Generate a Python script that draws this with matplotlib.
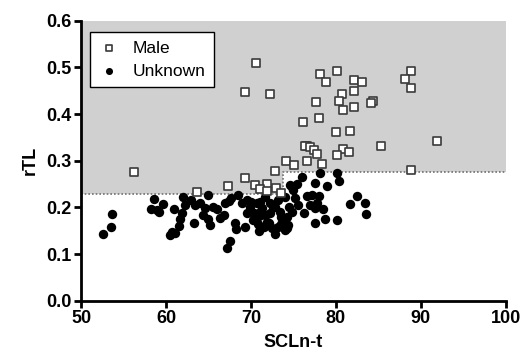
import matplotlib.pyplot as plt

plt.rcParams['font.family'] = ['Liberation Sans', 'DejaVu Sans']

# --- data

male_x = [70.6, 69.3, 56.2, 72.3, 78.2, 78.8, 77.7, 78.0, 76.1, 80.1,
          82.2, 83.1, 88.8, 88.2, 88.8, 80.7, 82.2, 80.4, 80.8, 82.2,
          84.4, 84.2, 80.0, 81.7, 91.9, 85.3, 76.6, 76.4, 77.0, 77.4,
          77.8, 80.8, 81.5, 80.1, 76.6, 78.4, 74.1, 75.1, 72.9, 88.9,
          69.3, 70.5, 67.3, 71.9, 71.1, 71.9, 73.0, 73.6, 63.6]
male_y = [0.509, 0.447, 0.275, 0.443, 0.485, 0.468, 0.425, 0.391, 0.382, 0.493,
          0.473, 0.469, 0.493, 0.475, 0.455, 0.444, 0.450, 0.428, 0.408, 0.415,
          0.427, 0.423, 0.361, 0.363, 0.343, 0.331, 0.331, 0.332, 0.330, 0.323,
          0.314, 0.326, 0.319, 0.312, 0.300, 0.294, 0.299, 0.291, 0.278, 0.280,
          0.264, 0.248, 0.246, 0.250, 0.239, 0.236, 0.241, 0.230, 0.233]

unk_x = [52.6, 53.5, 53.6, 58.2, 58.6, 59.2, 59.6, 60.5, 60.7, 60.9,
         61.1, 61.5, 61.7, 61.9, 62.0, 62.2, 63.3, 63.4, 64.0, 64.4,
         64.6, 64.9, 65.0, 65.2, 65.6, 66.0, 66.4, 66.8, 67.0, 67.2,
         67.5, 67.4, 67.7, 68.1, 68.3, 68.5, 68.9, 69.3, 69.5, 69.5,
         69.9, 70.0, 70.3, 70.4, 70.7, 70.9, 71.1, 71.1, 71.3, 71.5,
         71.7, 71.7, 71.9, 72.1, 72.3, 72.3, 72.5, 72.6, 72.9, 72.9,
         73.2, 73.2, 73.4, 73.6, 73.8, 74.0, 74.0, 74.2, 74.4, 74.2,
         74.6, 74.8, 75.0, 75.2, 75.4, 76.0, 76.2, 76.6, 77.0, 77.2,
         77.6, 77.6, 77.6, 77.8, 78.0, 78.2, 78.5, 78.7, 79.0, 80.1,
         80.4, 80.2, 81.7, 82.5, 83.4, 83.6, 70.8, 71.0, 73.5, 74.5,
         74.9, 75.6, 58.9, 62.9]
unk_y = [0.142, 0.157, 0.186, 0.196, 0.218, 0.189, 0.208, 0.141, 0.148, 0.196,
         0.146, 0.160, 0.174, 0.187, 0.223, 0.205, 0.166, 0.205, 0.209, 0.183,
         0.198, 0.226, 0.174, 0.162, 0.201, 0.196, 0.178, 0.183, 0.209, 0.112,
         0.128, 0.214, 0.219, 0.166, 0.153, 0.226, 0.209, 0.158, 0.187, 0.216,
         0.201, 0.211, 0.173, 0.187, 0.209, 0.181, 0.191, 0.212, 0.198, 0.158,
         0.223, 0.183, 0.169, 0.166, 0.187, 0.209, 0.155, 0.200, 0.143, 0.201,
         0.158, 0.216, 0.191, 0.180, 0.176, 0.223, 0.151, 0.180, 0.162, 0.155,
         0.248, 0.244, 0.237, 0.219, 0.251, 0.266, 0.187, 0.224, 0.205, 0.226,
         0.253, 0.198, 0.166, 0.209, 0.224, 0.274, 0.196, 0.174, 0.246, 0.273,
         0.256, 0.173, 0.207, 0.224, 0.209, 0.185, 0.165, 0.150, 0.165, 0.200,
         0.190, 0.205, 0.194, 0.215]

# shaded band: lower bound steps up at x = 73.8
band_x = [50, 73.8, 73.8, 100]
band_lo = [0.228, 0.228, 0.2756, 0.2756]
band_top = 0.6

fig = plt.figure(figsize=(5.21, 3.64), dpi=100)
ax = fig.add_axes([0.1555, 0.174, 0.815, 0.769])

ax.fill_between(band_x, band_lo, band_top, color='#d0d0d0', lw=0, zorder=0)
ax.plot(band_x, band_lo, color='#707070', ls=(0, (1, 1.2)), lw=1.2, zorder=1)

ax.scatter(unk_x, unk_y, s=46, marker='o', color='black', lw=0,
           zorder=2, label='Unknown')
ax.scatter(male_x, male_y, s=36, marker='s', facecolor='white',
           edgecolor='#3a3a3a', lw=1.2, zorder=3, label='Male')

ax.set_xlim(50, 100)
ax.set_ylim(0, 0.6)
ax.set_xticks([50, 60, 70, 80, 90, 100])
ax.set_yticks([0.0, 0.1, 0.2, 0.3, 0.4, 0.5, 0.6])
ax.set_yticklabels(['0.0', '0.1', '0.2', '0.3', '0.4', '0.5', '0.6'])

for s in ['top', 'right']:
    ax.spines[s].set_visible(False)
for s in ['left', 'bottom']:
    ax.spines[s].set_linewidth(2)
ax.tick_params(width=2, length=5, labelsize=13, pad=2)
for lab in ax.get_xticklabels() + ax.get_yticklabels():
    lab.set_fontweight('bold')

ax.set_xlabel('SCLn-t', fontsize=13, fontweight='bold', labelpad=5)
ax.set_ylabel('rTL', fontsize=13, fontweight='bold', labelpad=5)

h, l = ax.get_legend_handles_labels()
leg = ax.legend(h[::-1], l[::-1], loc='upper left', bbox_to_anchor=(0.02, 0.96),
                fontsize=12.5, frameon=True, fancybox=False, framealpha=1,
                edgecolor='black', handletextpad=0.7, borderpad=0.5,
                labelspacing=0.45, handlelength=1.3, markerscale=0.75,
                borderaxespad=0)
leg.get_frame().set_linewidth(1.0)

fig.savefig('out.png', dpi=100)
